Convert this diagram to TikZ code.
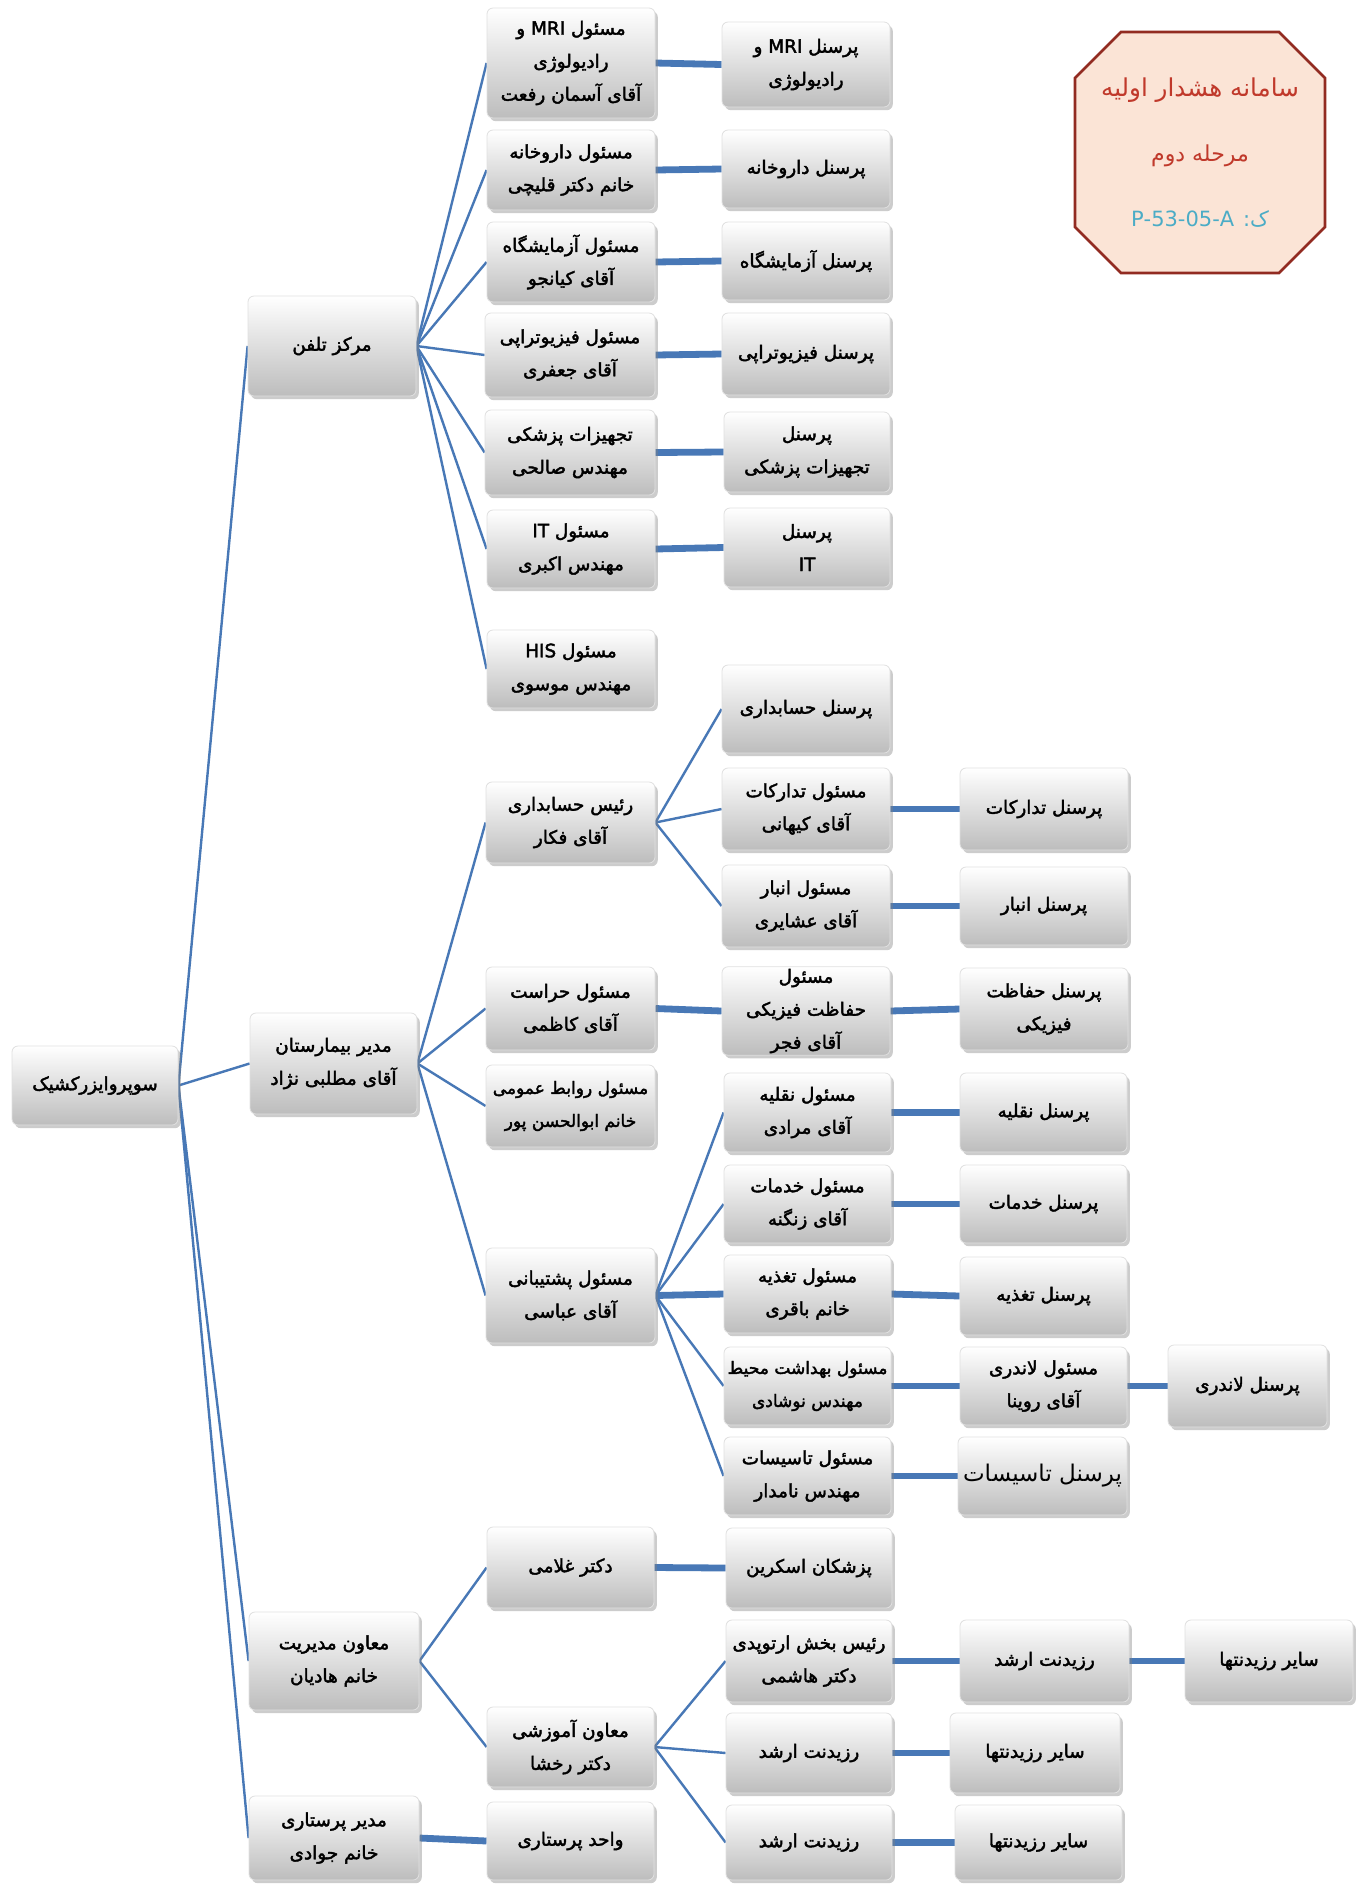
\documentclass[tikz,border=0pt]{standalone}
\usepackage{fontspec}
\usetikzlibrary{shadows}
\TeXXeTstate=1
\newfontfamily\arb[Script=Arabic,FakeBold=2.2]{DejaVu Sans}
\newfontfamily\arr[Script=Arabic]{DejaVu Sans}
\newcommand\myR[1]{\beginR #1\endR}
\newcommand\myL[1]{\beginL #1\endL{}}
\definecolor{lblue}{RGB}{72,120,182}
\definecolor{octfill}{RGB}{251,228,214}
\definecolor{octdraw}{RGB}{146,43,33}
\definecolor{octred}{RGB}{192,57,43}
\definecolor{octteal}{RGB}{75,172,198}
\pgfdeclarelayer{bg}\pgfsetlayers{bg,main}
\tikzset{
  orgbox/.style={rectangle, rounded corners=3pt, top color=white, bottom color=black!26,
    draw=black!12, line width=0.4pt, align=center, inner sep=1pt, text=black,
    font=\arb\fontsize{9.2}{16.5}\selectfont,
    drop shadow={shadow xshift=1.4pt, shadow yshift=-1.6pt, opacity=0.4}},
  narrowtext/.style={font=\arb\fontsize{8.5}{16.5}\selectfont},
  thinln/.style={draw=lblue, line width=1.2pt},
  thickln/.style={draw=lblue, line width=3.4pt},
}
\newcommand\bx[7][]{\node[orgbox, #1, minimum width={(#5-#3)*0.5pt}, minimum height={(#6-#4)*0.5pt}] (#2) at ({(#3+#5)/2},{(#4+#6)/2}) {#7};}
\begin{document}
\begin{tikzpicture}[x=0.5pt,y=-0.5pt]
\useasboundingbox (0,0) rectangle (1364,1886);
% column 0
\bx{c0}{12}{1046}{178}{1125}{\myR{سوپروایزرکشیک}}
% column 1
\bx{m1}{248}{296}{416}{396}{\myR{مرکز تلفن}}
\bx{m2}{250}{1013}{417}{1114}{\myR{مدیر بیمارستان}\\\myR{آقای مطلبی نژاد}}
\bx{m3}{249}{1612}{419}{1710}{\myR{معاون مدیریت}\\\myR{خانم هادیان}}
\bx{m4}{249}{1796}{419}{1880}{\myR{مدیر پرستاری}\\\myR{خانم جوادی}}
% column 2
\bx{n1}{487}{8}{655}{118}{\myR{مسئول \myL{MRI} و}\\\myR{رادیولوژی}\\\myR{آقای آسمان رفعت}}
\bx{n2}{487}{130}{655}{210}{\myR{مسئول داروخانه}\\\myR{خانم دکتر قلیچی}}
\bx{n3}{487}{222}{655}{302}{\myR{مسئول آزمایشگاه}\\\myR{آقای کیانجو}}
\bx{n4}{485}{313}{655}{397}{\myR{مسئول فیزیوتراپی}\\\myR{آقای جعفری}}
\bx{n5}{485}{410}{655}{495}{\myR{تجهیزات پزشکی}\\\myR{مهندس صالحی}}
\bx{n6}{487}{510}{655}{588}{\myR{مسئول \myL{IT}}\\\myR{مهندس اکبری}}
\bx{n7}{487}{630}{655}{708}{\myR{مسئول \myL{HIS}}\\\myR{مهندس موسوی}}
\bx{n8}{486}{782}{655}{863}{\myR{رئیس حسابداری}\\\myR{آقای فکار}}
\bx{n9}{486}{967}{655}{1050}{\myR{مسئول حراست}\\\myR{آقای کاظمی}}
\bx[narrowtext]{n10}{486}{1065}{655}{1147}{\myR{مسئول روابط عمومی}\\\myR{خانم ابوالحسن پور}}
\bx{n11}{486}{1248}{655}{1343}{\myR{مسئول پشتیبانی}\\\myR{آقای عباسی}}
\bx{n12}{487}{1527}{654}{1608}{\myR{دکتر غلامی}}
\bx{n13}{487}{1707}{654}{1787}{\myR{معاون آموزشی}\\\myR{دکتر رخشا}}
\bx{n14}{487}{1802}{654}{1880}{\myR{واحد پرستاری}}
% column 3
\bx{p1}{722}{22}{890}{107}{\myR{پرسنل \myL{MRI} و}\\\myR{رادیولوژی}}
\bx{p2}{722}{130}{890}{208}{\myR{پرسنل داروخانه}}
\bx{p3}{722}{222}{890}{300}{\myR{پرسنل آزمایشگاه}}
\bx{p4}{722}{313}{890}{395}{\myR{پرسنل فیزیوتراپی}}
\bx{p5}{724}{412}{890}{492}{\myR{پرسنل}\\\myR{تجهیزات پزشکی}}
\bx{p6}{724}{508}{890}{587}{\myR{پرسنل}\\\myL{IT}}
\bx{q1}{722}{665}{890}{753}{\myR{پرسنل حسابداری}}
\bx{q2}{722}{768}{890}{850}{\myR{مسئول تدارکات}\\\myR{آقای کیهانی}}
\bx{q3}{722}{865}{890}{947}{\myR{مسئول انبار}\\\myR{آقای عشایری}}
\bx{q4}{722}{967}{890}{1055}{\myR{مسئول}\\\myR{حفاظت فیزیکی}\\\myR{آقای فجر}}
\bx{q5}{724}{1073}{891}{1152}{\myR{مسئول نقلیه}\\\myR{آقای مرادی}}
\bx{q6}{724}{1165}{891}{1243}{\myR{مسئول خدمات}\\\myR{آقای زنگنه}}
\bx{q7}{724}{1255}{891}{1333}{\myR{مسئول تغذیه}\\\myR{خانم باقری}}
\bx[narrowtext]{q8}{724}{1347}{891}{1425}{\myR{مسئول بهداشت محیط}\\\myR{مهندس نوشادی}}
\bx{q9}{724}{1437}{891}{1515}{\myR{مسئول تاسیسات}\\\myR{مهندس نامدار}}
\bx{q10}{726}{1528}{892}{1608}{\myR{پزشکان اسکرین}}
\bx{q11}{726}{1620}{892}{1702}{\myR{رئیس بخش ارتوپدی}\\\myR{دکتر هاشمی}}
\bx{q12}{726}{1713}{892}{1793}{\myR{رزیدنت ارشد}}
\bx{q13}{726}{1805}{892}{1880}{\myR{رزیدنت ارشد}}
% column 4
\bx{r1}{960}{768}{1128}{850}{\myR{پرسنل تدارکات}}
\bx{r2}{960}{867}{1128}{945}{\myR{پرسنل انبار}}
\bx{r3}{960}{968}{1128}{1050}{\myR{پرسنل حفاظت}\\\myR{فیزیکی}}
\bx{r4}{960}{1073}{1127}{1152}{\myR{پرسنل نقلیه}}
\bx{r5}{960}{1165}{1127}{1243}{\myR{پرسنل خدمات}}
\bx{r6}{960}{1257}{1127}{1335}{\myR{پرسنل تغذیه}}
\bx{r7}{960}{1347}{1127}{1425}{\myR{مسئول لاندری}\\\myR{آقای روینا}}
\bx{r8}{958}{1437}{1127}{1515}{{\arr\fontsize{11.5}{14}\selectfont\myR{پرسنل تاسیسات}}}
\bx{r9}{960}{1620}{1129}{1702}{\myR{رزیدنت ارشد}}
\bx{r10}{950}{1713}{1120}{1793}{\myR{سایر رزیدنتها}}
\bx{r11}{955}{1805}{1122}{1880}{\myR{سایر رزیدنتها}}
% column 5
\bx{s1}{1168}{1345}{1327}{1427}{\myR{پرسنل لاندری}}
\bx{s2}{1185}{1620}{1353}{1702}{\myR{سایر رزیدنتها}}
% connectors
\begin{pgfonlayer}{bg}
\fill[white] (0,0) rectangle (1364,1886);
\foreach \c in {m1,m2,m3,m4} \draw[thinln] (c0.east) -- (\c.west);
\foreach \c in {n1,n2,n3,n4,n5,n6,n7} \draw[thinln] (m1.east) -- (\c.west);
\foreach \c in {n8,n9,n10,n11} \draw[thinln] (m2.east) -- (\c.west);
\foreach \c in {n12,n13} \draw[thinln] (m3.east) -- (\c.west);
\foreach \c in {q1,q2,q3} \draw[thinln] (n8.east) -- (\c.west);
\foreach \c in {q5,q6,q8,q9} \draw[thinln] (n11.east) -- (\c.west);
\foreach \c in {q11,q12,q13} \draw[thinln] (n13.east) -- (\c.west);
\foreach \a/\b in {m4/n14,n1/p1,n2/p2,n3/p3,n4/p4,n5/p5,n6/p6,n9/q4,q4/r3,n11/q7,
  q2/r1,q3/r2,q5/r4,q6/r5,q7/r6,q8/r7,q9/r8,r7/s1,n12/q10,q11/r9,r9/s2,q12/r10,q13/r11}
  \draw[thickln] (\a.east) -- (\b.west);
\end{pgfonlayer}
% title octagon
\draw[octdraw, fill=octfill, line width=1.3pt]
  (1121,32) -- (1279,32) -- (1325,78) -- (1325,227) -- (1279,273) -- (1121,273) -- (1075,227) -- (1075,78) -- cycle;
\node[text=octred, font=\arr\fontsize{12.3}{14}\selectfont] (t1) at (1200,90) {\myR{سامانه هشدار اولیه}};
\node[text=octred, font=\arr\fontsize{11}{13}\selectfont] (t2) at (1200,156) {\myR{مرحله دوم}};
\node[text=octteal, font=\arr\fontsize{10.5}{12}\selectfont] (t3) at (1200,219) {\myR{ک: \myL{P-53-05-A}}};
\end{tikzpicture}
\end{document}
